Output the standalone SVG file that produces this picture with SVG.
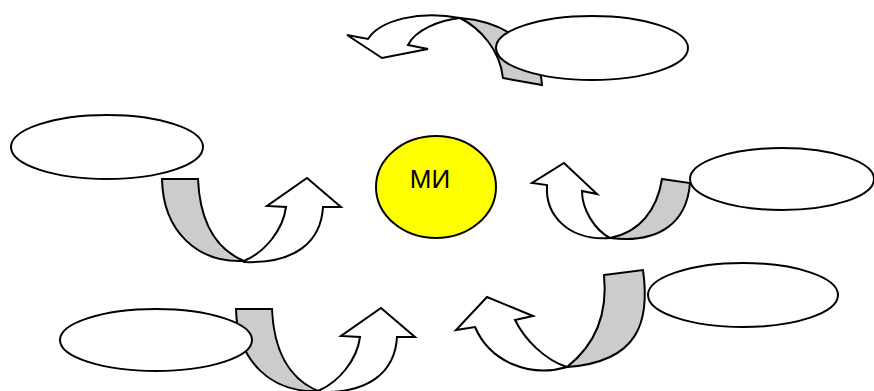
<svg xmlns="http://www.w3.org/2000/svg" width="874" height="391" viewBox="0 0 874 391">
<style>
.g{fill:#cccccc;stroke:#000;stroke-width:2;stroke-linejoin:miter}
.w{fill:#fff;stroke:#000;stroke-width:2;stroke-linejoin:miter}
.n{fill:#fff;stroke:#000;stroke-width:2}
.c{fill:#ffff00;stroke:#000;stroke-width:2}
.t{font-family:"Liberation Sans",Arial,sans-serif;font-size:26px;fill:#000}
</style>
<defs>
<g id="arrowA">
<path class="g" d="M162,179 L198,179 C200,225 218,250 244,261 C198,263 163,232 162,179 Z"/>
<path class="w" d="M244,261 C265,252 283,230 286,207 L267,206 L307,178 L341,207 L323,207 C321,242 295,264 244,262 Z"/>
</g>
</defs>
<g id="connectors">
<use href="#arrowA"/>
<use href="#arrowA" transform="translate(74,130)"/>
<g id="arrow-right">
<path class="g" d="M662,179 L690,183 C687,222 660,244 610,238 C640,232 657,210 662,179 Z"/>
<path class="w" d="M610,238 C568,241 545,215 547,185 L532,183 L564,163 L597,194 L582,191 C582,210 595,230 610,238 Z"/>
</g>
<g id="arrow-bottom-right">
<path class="g" d="M604,275 L643,270 C650,320 640,362 567,367 C595,345 608,315 604,275 Z"/>
<path class="w" d="M567,367 C530,378 490,362 475,327 L456,330 L487,297 L533,316 L515,320 C525,340 545,360 567,367 Z"/>
</g>
<g id="arrow-top">
<path class="g" d="M503,78 L542,85 C540,50 510,22 460,18 C480,28 500,50 503,78 Z"/>
<path class="w" d="M460,18 C420,10 380,20 368,39 L347,35 L382,58 L428,49 L408,45 C415,30 440,20 460,18 Z"/>
</g>
</g>
<g id="node-top"><ellipse class="n" cx="592" cy="48" rx="96" ry="32"/></g>
<g id="node-left"><ellipse class="n" cx="107" cy="147" rx="96" ry="32"/></g>
<g id="node-right"><ellipse class="n" cx="782" cy="179" rx="92" ry="31"/></g>
<g id="node-bottom-right"><ellipse class="n" cx="743" cy="295" rx="95" ry="32"/></g>
<g id="node-bottom-left"><ellipse class="n" cx="156" cy="340" rx="96" ry="31"/></g>
<g id="node-center"><ellipse class="c" cx="436" cy="187" rx="60" ry="51"/>
<text class="t" x="430" y="188" text-anchor="middle">МИ</text></g>
</svg>
